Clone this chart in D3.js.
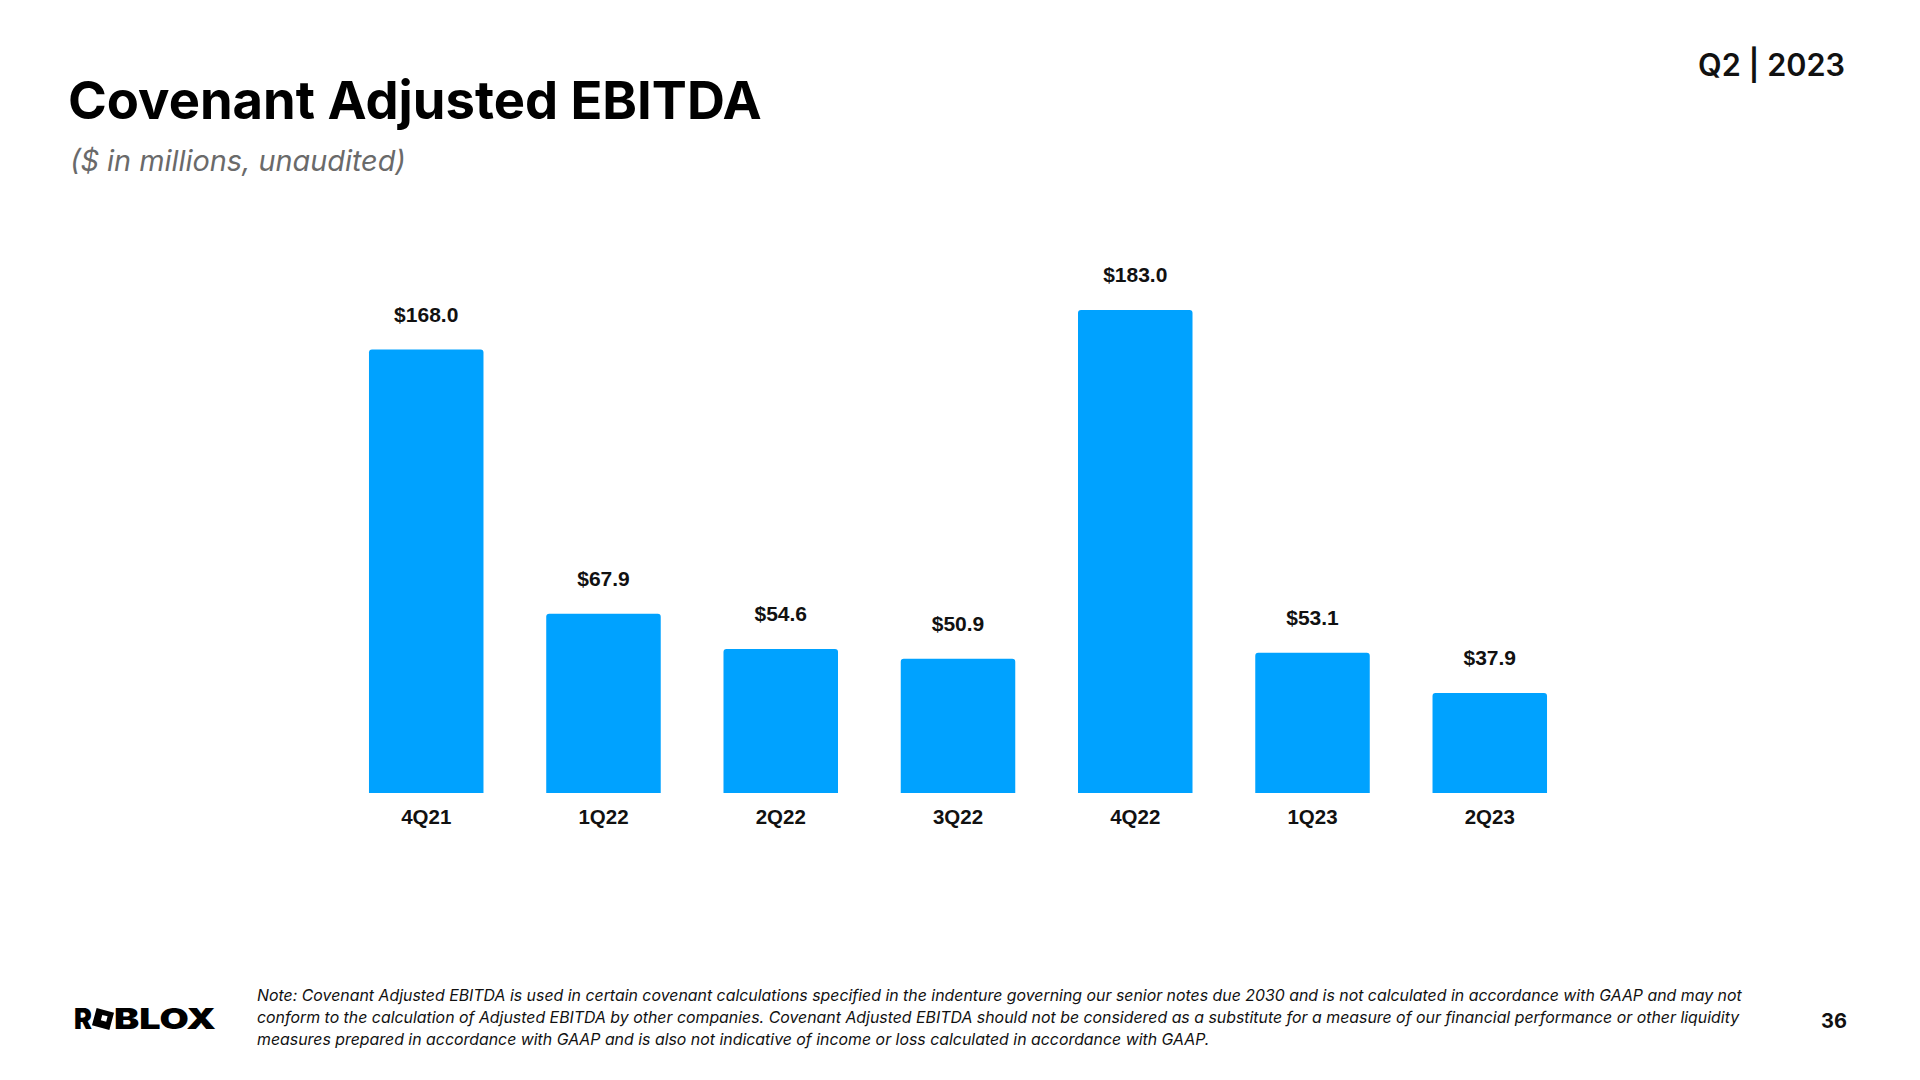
<!DOCTYPE html>
<html>
<head>
<meta charset="utf-8">
<script src="https://cdn.jsdelivr.net/npm/d3@7"></script>
<style>
  html, body { margin: 0; padding: 0; background: #fff; }
  svg { display: block; }
</style>
</head>
<body>
<script>
// ---- data ----
const categories = ["4Q21", "1Q22", "2Q22", "3Q22", "4Q22", "1Q23", "2Q23"];
const values = [168.0, 67.9, 54.6, 50.9, 183.0, 53.1, 37.9];
const valueLabels = ["$168.0", "$67.9", "$54.6", "$50.9", "$183.0", "$53.1", "$37.9"];
const titleText = "Covenant Adjusted EBITDA";
const subtitleText = "($ in millions, unaudited)";
const periodText = "Q2 | 2023";
const pageNumber = "36";
const noteLines = [
  "Note: Covenant Adjusted EBITDA is used in certain covenant calculations specified in the indenture governing our senior notes due 2030 and is not calculated in accordance with GAAP and may not",
  "conform to the calculation of Adjusted EBITDA by other companies. Covenant Adjusted EBITDA should not be considered as a substitute for a measure of our financial performance or other liquidity",
  "measures prepared in accordance with GAAP and is also not indicative of income or loss calculated in accordance with GAAP."
];

const W = 1920, H = 1080;
const svg = d3.select("body").append("svg").attr("width", W).attr("height", H);

function fitWidth(sel, target) {
  const node = sel.node();
  const len = node.getComputedTextLength();
  if (len > 0) {
    const fs = parseFloat(sel.attr("font-size"));
    sel.attr("font-size", (fs * target / len).toFixed(2));
  }
  return sel;
}

// ---- header ----
const title = svg.append("text")
  .attr("x", 68).attr("y", 119)
  .attr("font-family", "Inter, 'Noto Sans', sans-serif")
  .attr("font-weight", 700).attr("font-size", 55)
  .attr("fill", "#000").text(titleText);
fitWidth(title, 694);

const sub = svg.append("text")
  .attr("x", 70).attr("y", 171)
  .attr("font-family", "Inter, 'Noto Sans', sans-serif")
  .attr("font-style", "italic").attr("font-weight", 400).attr("font-size", 28)
  .attr("fill", "#6a6a6a").text(subtitleText);
fitWidth(sub, 336);

const period = svg.append("text")
  .attr("x", 1845).attr("y", 76).attr("text-anchor", "end")
  .attr("font-family", "Inter, 'Noto Sans', sans-serif")
  .attr("font-weight", 600).attr("font-size", 27)
  .attr("fill", "#111").text(periodText);
fitWidth(period, 147);

// ---- chart ----
const x = d3.scaleBand()
  .domain(categories)
  .range([337.6, 1578.4])
  .paddingInner(0.354)
  .paddingOuter(0.177);

const y = d3.scaleLinear().domain([0, 183]).range([793, 310]);

const r = 3;
function barPath(d, i) {
  const x0 = x(categories[i]), w = x.bandwidth();
  const yt = y(d), yb = y(0);
  return `M${x0},${yb}V${yt + r}Q${x0},${yt} ${x0 + r},${yt}H${x0 + w - r}Q${x0 + w},${yt} ${x0 + w},${yt + r}V${yb}Z`;
}

svg.append("g").selectAll("path")
  .data(values)
  .join("path")
  .attr("d", barPath)
  .attr("fill", "#00A2FF");

svg.append("g").selectAll("text")
  .data(values)
  .join("text")
  .attr("x", (d, i) => x(categories[i]) + x.bandwidth() / 2)
  .attr("y", d => y(d) - 28)
  .attr("text-anchor", "middle")
  .attr("font-family", "Arial, 'Liberation Sans', sans-serif")
  .attr("font-weight", 700).attr("font-size", 21)
  .attr("fill", "#111")
  .text((d, i) => valueLabels[i]);

const xAxis = d3.axisBottom(x).tickSize(0).tickPadding(0);
const gx = svg.append("g").attr("transform", "translate(0,793)").call(xAxis);
gx.select(".domain").remove();
gx.selectAll("text")
  .attr("y", 31).attr("dy", 0)
  .attr("font-family", "Arial, 'Liberation Sans', sans-serif")
  .attr("font-weight", 700).attr("font-size", 20.5)
  .attr("fill", "#111");

// ---- footer ----
const logo = svg.append("g");
logo.append("text")
  .attr("x", 74).attr("y", 1029)
  .attr("font-family", "Inter, 'Noto Sans', sans-serif")
  .attr("font-weight", 900).attr("font-size", 28)
  .attr("fill", "#000").text("R")
  .attr("textLength", 18).attr("lengthAdjust", "spacingAndGlyphs");
// tilted square "O"
const cx = 103, cy = 1019, s = 18, hs = 5.5;
logo.append("path")
  .attr("transform", `translate(${cx},${cy}) rotate(15)`)
  .attr("fill-rule", "evenodd")
  .attr("fill", "#000")
  .attr("d", `M${-s/2},${-s/2}H${s/2}V${s/2}H${-s/2}Z M${-hs/2 + 1},${-hs/2 - 1}h${hs}v${hs}h${-hs}Z`);
logo.append("text")
  .attr("x", 114).attr("y", 1029)
  .attr("font-family", "Inter, 'Noto Sans', sans-serif")
  .attr("font-weight", 900).attr("font-size", 28)
  .attr("fill", "#000").text("BLOX")
  .attr("textLength", 102).attr("lengthAdjust", "spacingAndGlyphs");

const noteG = svg.append("g");
noteLines.forEach((t, i) => {
  const tx = noteG.append("text")
    .attr("x", 257).attr("y", 1001 + i * 22)
    .attr("font-family", "Inter, 'Noto Sans', sans-serif")
    .attr("font-style", "italic").attr("font-size", 15.5)
    .attr("fill", "#111").text(t);
  if (i === 0) fitWidth(tx, 1485);
  else tx.attr("font-size", noteG.select("text").attr("font-size"));
});

svg.append("text")
  .attr("x", 1847).attr("y", 1028).attr("text-anchor", "end")
  .attr("font-family", "Inter, 'Noto Sans', sans-serif")
  .attr("font-weight", 700).attr("font-size", 20)
  .attr("fill", "#111").text(pageNumber);
</script>
</body>
</html>
